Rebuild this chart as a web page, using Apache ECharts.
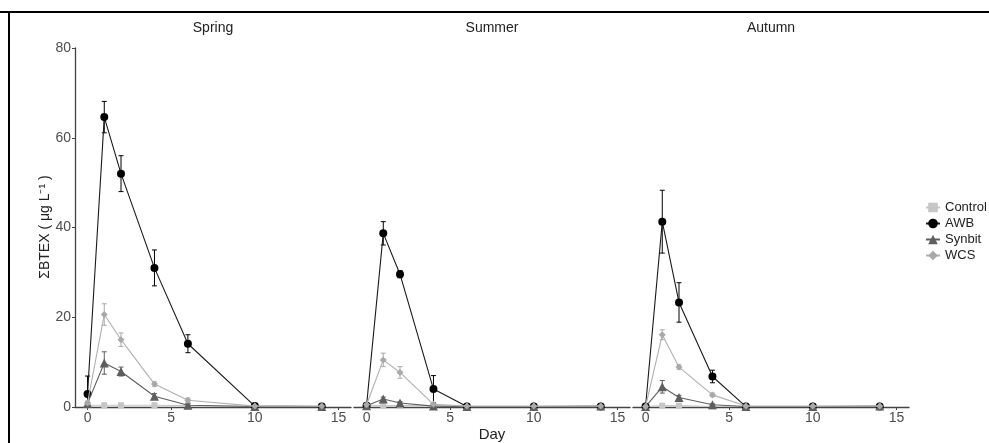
<!DOCTYPE html>
<html>
<head>
<meta charset="utf-8">
<script src="https://cdn.jsdelivr.net/npm/echarts@6/dist/echarts.min.js"></script>
<style>html,body{margin:0;padding:0;background:#fff}#c{width:989px;height:443px}</style>
</head>
<body>
<div id="c"></div>
<script>
const days = [0, 1, 2, 4, 6, 10, 14];
const seasons = ['Spring', 'Summer', 'Autumn'];
const treatments = ['Control', 'AWB', 'Synbit', 'WCS'];
const xTicks = [0, 5, 10, 15];

// Spring
const springControl = [0.4, 0.4, 0.4, 0.4, 0.3, 0.1, 0.1];
const springAWB     = [2.9, 64.6, 52.0, 31.0, 14.1, 0.2, 0.1];
const springAWBErr  = [4.0, 3.5, 4.0, 4.0, 2.0, 0, 0];
const springSynbit  = [0.8, 9.8, 7.9, 2.4, 0.4, 0.1, 0.1];
const springSynbitErr = [0.3, 2.5, 1.0, 0.6, 0.3, 0, 0];
const springWCS     = [0.9, 20.6, 15.0, 5.1, 1.5, 0.2, 0.2];
const springWCSErr  = [0.4, 2.4, 1.5, 0.5, 0.5, 0, 0];

// Summer
const summerControl = [0.4, 0.3, 0.3, 0.3, 0.1, 0.1, 0.1];
const summerAWB     = [0.3, 38.7, 29.6, 4.0, 0.1, 0.1, 0.1];
const summerAWBErr  = [0.2, 2.6, 0.8, 3.0, 0, 0, 0];
const summerSynbit  = [0.3, 1.8, 0.9, 0.2, 0.1, 0.1, 0.2];
const summerSynbitErr = [0.1, 0.4, 0.3, 0.1, 0, 0, 0];
const summerWCS     = [0.5, 10.5, 7.7, 0.6, 0.2, 0.2, 0.2];
const summerWCSErr  = [0.2, 1.5, 1.3, 0.3, 0, 0, 0];

// Autumn
const autumnControl = [0.1, 0.3, 0.3, 0.1, 0.1, 0.1, 0.1];
const autumnAWB     = [0.1, 41.3, 23.3, 6.8, 0.1, 0.1, 0.1];
const autumnAWBErr  = [0.1, 7.0, 4.4, 1.4, 0, 0, 0];
const autumnSynbit  = [0.1, 4.5, 2.1, 0.5, 0.1, 0.1, 0.2];
const autumnSynbitErr = [0.1, 1.4, 0.5, 0.2, 0, 0, 0];
const autumnWCS     = [0.1, 16.1, 8.9, 2.7, 0.2, 0.2, 0.2];
const autumnWCSErr  = [0.1, 1.1, 0.5, 0.4, 0, 0, 0];

const values = [
  [springControl, springAWB, springSynbit, springWCS],
  [summerControl, summerAWB, summerSynbit, summerWCS],
  [autumnControl, autumnAWB, autumnSynbit, autumnWCS]
];
const errors = [
  [null, springAWBErr, springSynbitErr, springWCSErr],
  [null, summerAWBErr, summerSynbitErr, summerWCSErr],
  [null, autumnAWBErr, autumnSynbitErr, autumnWCSErr]
];

const colors  = {Control: '#c6c6c6', AWB: '#000000', Synbit: '#5e5e5e', WCS: '#a9a9a9'};
const lineColors = {Control: '#c6c6c6', AWB: '#1a1a1a', Synbit: '#5e5e5e', WCS: '#b0b0b0'};
const symbols = {Control: 'rect', AWB: 'circle', Synbit: 'triangle', WCS: 'diamond'};
const sizes   = {Control: 6, AWB: 8, Synbit: 9, WCS: 7};
const zs      = {Control: 2, AWB: 3, Synbit: 4, WCS: 5};

const gridLefts = [75, 354, 633];
const gridW = 276, gridTop = 48, gridH = 359;
const FONT = 'Liberation Sans';

const grids = gridLefts.map(l => ({left: l, top: gridTop, width: gridW, height: gridH, containLabel: false, outerBoundsMode: 'none'}));
const xAxes = gridLefts.map((l, i) => ({
  type: 'value', gridIndex: i, min: -0.75, max: 15.75,
  axisLine: {show: true, onZero: false, lineStyle: {color: '#444', width: 1.3}},
  axisTick: {show: true, customValues: xTicks, length: 3, lineStyle: {color: '#444'}},
  axisLabel: {customValues: xTicks, color: '#4d4d4d', fontSize: 14, margin: 4, fontFamily: FONT},
  splitLine: {show: false}
}));
const yAxes = gridLefts.map((l, i) => ({
  type: 'value', gridIndex: i, min: 0, max: 80, interval: 20,
  show: i === 0,
  axisLine: {show: i === 0, onZero: false, lineStyle: {color: '#444', width: 1.3}},
  axisTick: {show: i === 0, length: 3, lineStyle: {color: '#444'}},
  axisLabel: {color: '#4d4d4d', fontSize: 14, margin: 4, fontFamily: FONT},
  splitLine: {show: false}
}));

const series = [];
seasons.forEach((s, si) => {
  treatments.forEach((t, ti) => {
    const vals = values[si][ti];
    const errs = errors[si][ti];
    if (errs) {
      series.push({
        type: 'custom', name: t + ' err ' + s, xAxisIndex: si, yAxisIndex: si,
        z: zs[t], clip: true, silent: true,
        data: days.map((d, k) => [d, vals[k], errs[k]]).filter(p => p[2] > 0),
        encode: {x: 0, y: 1},
        renderItem: (params, api) => {
          const x = api.value(0), y = api.value(1), e = api.value(2);
          const top = api.coord([x, y + e]);
          const bot = api.coord([x, y - e]);
          const cw = 2.5;
          const st = {stroke: colors[t], lineWidth: 1};
          return {type: 'group', children: [
            {type: 'line', shape: {x1: top[0], y1: top[1], x2: bot[0], y2: bot[1]}, style: st},
            {type: 'line', shape: {x1: top[0] - cw, y1: top[1], x2: top[0] + cw, y2: top[1]}, style: st},
            {type: 'line', shape: {x1: bot[0] - cw, y1: bot[1], x2: bot[0] + cw, y2: bot[1]}, style: st}
          ]};
        }
      });
    }
    series.push({
      type: 'line', name: t, xAxisIndex: si, yAxisIndex: si, z: zs[t],
      data: days.map((d, k) => [d, vals[k]]),
      symbol: symbols[t], symbolSize: sizes[t], showSymbol: true, clip: true,
      itemStyle: {color: colors[t]},
      lineStyle: {color: lineColors[t], width: 1.1}
    });
  });
});

const chart = echarts.init(document.getElementById('c'), null, {renderer: 'canvas'});
chart.setOption({
  animation: false,
  backgroundColor: '#fff',
  grid: grids,
  xAxis: xAxes,
  yAxis: yAxes,
  legend: {
    data: treatments, orient: 'vertical', left: 920, top: 196,
    itemWidth: 14, itemHeight: 12, itemGap: 3, selectedMode: false,
    textStyle: {fontSize: 13, color: '#222', fontFamily: FONT}
  },
  graphic: [
    {type: 'line', shape: {x1: 0, y1: 12, x2: 989, y2: 12}, style: {stroke: '#000', lineWidth: 2}},
    {type: 'line', shape: {x1: 9, y1: 12, x2: 9, y2: 443}, style: {stroke: '#000', lineWidth: 2}},
    ...seasons.map((s, i) => ({
      type: 'text', x: gridLefts[i] + gridW / 2, y: 28,
      style: {text: s, fontSize: 14, fill: '#222', textAlign: 'center', textVerticalAlign: 'middle', fontFamily: FONT}
    })),
    {type: 'text', x: gridLefts[1] + gridW / 2, y: 435,
      style: {text: 'Day', fontSize: 15, fill: '#222', textAlign: 'center', textVerticalAlign: 'middle', fontFamily: FONT}},
    {type: 'text', x: 45, y: 227, rotation: Math.PI / 2,
      style: {text: 'ΣBTEX ( μg L⁻¹ )', fontSize: 14, fill: '#222', textAlign: 'center', textVerticalAlign: 'middle', fontFamily: FONT}}
  ],
  series: series
});
</script>
</body>
</html>
